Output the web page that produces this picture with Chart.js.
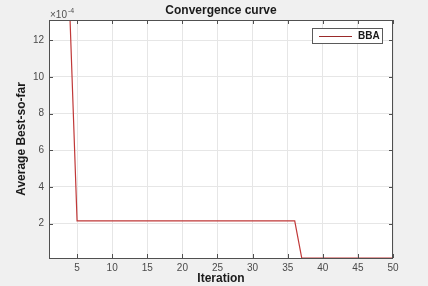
<!DOCTYPE html>
<html><head><meta charset="utf-8">
<script src="https://cdn.jsdelivr.net/npm/chart.js@4/dist/chart.umd.min.js"></script>
<style>html,body{margin:0;padding:0;background:#f0f0f0;}canvas{display:block;}</style>
</head><body>
<canvas id="c" width="428" height="286"></canvas>
<script>
const iterations = [1,2,3,4,5,6,7,8,9,10,11,12,13,14,15,16,17,18,19,20,21,22,23,24,25,26,27,28,29,30,31,32,33,34,35,36,37,38,39,40,41,42,43,44,45,46,47,48,49,50];
const bbaValues = [13.1,13.1,13.1,13.1,2.15,2.15,2.15,2.15,2.15,2.15,2.15,2.15,2.15,2.15,2.15,2.15,2.15,2.15,2.15,2.15,2.15,2.15,2.15,2.15,2.15,2.15,2.15,2.15,2.15,2.15,2.15,2.15,2.15,2.15,2.15,2.15,0.13,0.13,0.13,0.13,0.13,0.13,0.13,0.13,0.13,0.13,0.13,0.13,0.13,0.13];
const xTicks = [5,10,15,20,25,30,35,40,45,50];
const yTicks = [2,4,6,8,10,12];
const seriesName = 'BBA';
const titleText = 'Convergence curve';
const xLabel = 'Iteration';
const yLabel = 'Average Best-so-far';

const axisColor = '#505050';
const lineColor = '#c03838';
const font = '"Liberation Sans", Arial, sans-serif';

const decor = {
  id: 'decor',
  beforeDraw(chart) {
    const {ctx, chartArea: a} = chart;
    ctx.save();
    ctx.fillStyle = '#ffffff';
    ctx.fillRect(a.left, a.top, a.right - a.left, a.bottom - a.top);
    ctx.restore();
  },
  afterDraw(chart) {
    const {ctx, chartArea: a, scales} = chart;
    ctx.save();
    ctx.strokeStyle = axisColor; ctx.lineWidth = 1;
    ctx.strokeRect(a.left + 0.5, a.top + 0.5, a.right - a.left - 1, a.bottom - a.top);
    ctx.beginPath();
    xTicks.forEach(v => {
      const x = Math.round(scales.x.getPixelForValue(v)) + 0.5;
      ctx.moveTo(x, a.bottom); ctx.lineTo(x, a.bottom - 4);
      ctx.moveTo(x, a.top); ctx.lineTo(x, a.top + 4);
    });
    yTicks.forEach(v => {
      const y = Math.round(scales.y.getPixelForValue(v)) + 0.5;
      ctx.moveTo(a.left, y); ctx.lineTo(a.left + 4, y);
      ctx.moveTo(a.right, y); ctx.lineTo(a.right - 4, y);
    });
    ctx.stroke();
    ctx.fillStyle = '#1a1a1a';
    ctx.textAlign = 'center'; ctx.textBaseline = 'middle';
    ctx.font = 'bold 12px ' + font;
    ctx.fillText(titleText, (a.left + a.right) / 2, 11);
    ctx.fillText(xLabel, (a.left + a.right) / 2, 279);
    ctx.save();
    ctx.translate(22, (a.top + a.bottom) / 2);
    ctx.rotate(-Math.PI / 2);
    ctx.fillText(yLabel, 0, 0);
    ctx.restore();
    ctx.fillStyle = '#505050';
    ctx.textAlign = 'left';
    ctx.font = '10px ' + font;
    ctx.fillText('\u00d710', 50, 15);
    ctx.font = '7px ' + font;
    ctx.fillText('-4', 68, 11);
    const lx = 312, ly = 28, lw = 70, lh = 15;
    ctx.fillStyle = '#ffffff';
    ctx.fillRect(lx, ly, lw, lh);
    ctx.strokeStyle = '#5a5a5a';
    ctx.strokeRect(lx + 0.5, ly + 0.5, lw, lh);
    ctx.strokeStyle = '#9a2a2a'; ctx.lineWidth = 1;
    ctx.beginPath(); ctx.moveTo(319, 36.5); ctx.lineTo(352, 36.5); ctx.stroke();
    ctx.fillStyle = '#1a1a1a';
    ctx.font = 'bold 10px ' + font;
    ctx.textAlign = 'left';
    ctx.fillText(seriesName, 358, 36.5);
    ctx.restore();
  }
};

new Chart(document.getElementById('c'), {
  type: 'line',
  data: {
    labels: iterations,
    datasets: [{
      label: seriesName,
      data: iterations.map((x, i) => ({x: x, y: bbaValues[i]})),
      borderColor: lineColor,
      borderWidth: 1.2,
      pointRadius: 0,
      tension: 0,
      fill: false
    }]
  },
  options: {
    responsive: false,
    animation: false,
    devicePixelRatio: 1,
    layout: {padding: {top: 20, right: 35, left: 0, bottom: 0}},
    plugins: {legend: {display: false}, title: {display: false}, tooltip: {enabled: false}},
    scales: {
      x: {
        type: 'linear', min: 1, max: 50,
        afterFit(s) { s.height = 28; },
        afterBuildTicks(s) { s.ticks = xTicks.map(v => ({value: v})); },
        grid: {color: '#e6e6e6', drawTicks: false},
        border: {display: false},
        ticks: {padding: 4, color: '#4a4a4a', font: {family: font, size: 10}, maxRotation: 0}
      },
      y: {
        type: 'linear', min: 0.13, max: 13.1,
        afterFit(s) { s.width = 49; },
        afterBuildTicks(s) { s.ticks = yTicks.map(v => ({value: v})); },
        grid: {color: '#e6e6e6', drawTicks: false},
        border: {display: false},
        ticks: {padding: 5, color: '#4a4a4a', font: {family: font, size: 10}}
      }
    }
  },
  plugins: [decor]
});
</script>
</body></html>
